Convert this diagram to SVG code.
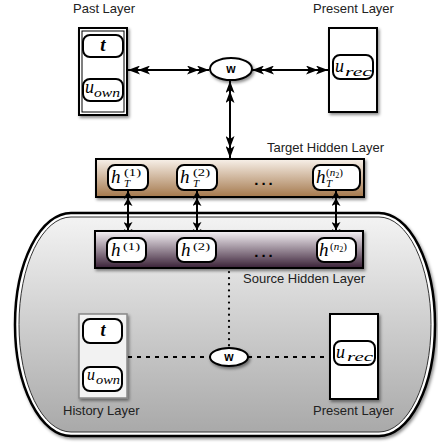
<svg xmlns="http://www.w3.org/2000/svg" width="438" height="443" viewBox="0 0 438 443">
<defs>
<style>
.lbl{font-family:"Liberation Sans",Arial,sans-serif;font-size:13px;fill:#222}
.m{font-family:"Liberation Serif","Times New Roman",serif;font-style:italic;fill:#000}
.up{font-family:"Liberation Serif","Times New Roman",serif;fill:#000}
.w{font-family:"Liberation Sans",Arial,sans-serif;font-weight:bold;font-size:12px;text-anchor:middle;fill:#000}
.n{fill:#fff;stroke:#000;stroke-width:2}
.ell{fill:#fff;stroke:#000;stroke-width:2}
.ar{fill:none;stroke:#000;stroke-width:2}
.dash{fill:none;stroke:#000;stroke-width:2;stroke-dasharray:4 5}
.dot{fill:none;stroke:#000;stroke-width:2.2;stroke-dasharray:0.1 6;stroke-linecap:round}
.dots{font-family:"Liberation Sans",Arial,sans-serif;font-weight:bold;font-size:15px;letter-spacing:3px;fill:#000;text-anchor:middle}
</style>
<linearGradient id="gc" x1="0" y1="0" x2="0" y2="1">
<stop offset="0" stop-color="#f3f3f3"/><stop offset="1" stop-color="#a9a9a9"/>
</linearGradient>
<linearGradient id="gt" x1="0" y1="0" x2="0" y2="1">
<stop offset="0" stop-color="#f8f1ea"/><stop offset="1" stop-color="#a4784c"/>
</linearGradient>
<linearGradient id="gs" x1="0" y1="0" x2="0" y2="1">
<stop offset="0" stop-color="#f7f3f7"/><stop offset="1" stop-color="#3a2137"/>
</linearGradient>
<filter id="sh" x="-20%" y="-20%" width="140%" height="150%">
<feDropShadow dx="1.5" dy="2" stdDeviation="1.6" flood-color="#000" flood-opacity="0.45"/>
</filter>
<marker id="a1" markerUnits="userSpaceOnUse" viewBox="0 0 22 9" markerWidth="22" markerHeight="9" refX="22" refY="4.5" orient="auto-start-reverse">
<path d="M0,0 L12,4.5 L0,9 L3,4.5 Z M10,0 L22,4.5 L10,9 L13,4.5 Z" fill="#000"/>
</marker>
<marker id="a2" markerUnits="userSpaceOnUse" viewBox="0 0 15 9" markerWidth="15" markerHeight="9" refX="15" refY="4.5" orient="auto-start-reverse">
<path d="M0,0 L8,4.5 L0,9 L2,4.5 Z M7,0 L15,4.5 L7,9 L9,4.5 Z" fill="#000"/>
</marker>
</defs>

<!-- container -->
<g id="container">
<rect x="15" y="213" width="420" height="223" rx="56" ry="111.5" fill="#fff" stroke="#000" stroke-width="2.5" filter="url(#sh)"/>
<rect x="19" y="217" width="412" height="215" rx="52" ry="107.5" fill="url(#gc)" stroke="#333" stroke-width="1"/>
</g>

<!-- connectors -->
<g id="connectors">
<line class="ar" x1="128" y1="70" x2="209" y2="70" marker-start="url(#a1)" marker-end="url(#a1)"/>
<line class="ar" x1="252" y1="70" x2="328" y2="70" marker-start="url(#a1)" marker-end="url(#a1)"/>
<line class="ar" x1="230" y1="81" x2="230" y2="158" marker-start="url(#a1)" marker-end="url(#a1)"/>
<line class="dot" x1="229" y1="272" x2="229" y2="346"/>
<line class="dash" x1="128" y1="357" x2="210" y2="357"/>
<line class="dash" x1="248" y1="357" x2="330" y2="357"/>
</g>

<!-- past layer -->
<g id="past-layer">
<text class="lbl" x="73" y="13">Past Layer</text>
<rect x="79" y="28" width="48" height="87" fill="#fff" stroke="#000" stroke-width="2" filter="url(#sh)"/>
<rect x="82" y="31" width="42" height="81" fill="none" stroke="#000" stroke-width="1"/>
<rect class="n" x="83" y="35" width="40" height="22" rx="7"/>
<text class="m" x="103" y="51" font-size="19" font-weight="bold" text-anchor="middle">t</text>
<rect class="n" x="83" y="79" width="40" height="22" rx="7"/>
<text class="m" x="85" y="93" font-size="18">u</text>
<text class="m" x="94" y="97" font-size="13" textLength="26" lengthAdjust="spacingAndGlyphs">own</text>
</g>

<!-- W top -->
<g id="w-top">
<ellipse class="ell" cx="231" cy="69" rx="21" ry="11" filter="url(#sh)"/>
<text class="w" x="231" y="73">w</text>
</g>

<!-- present layer top -->
<g id="present-layer-top">
<text class="lbl" x="313" y="13">Present Layer</text>
<rect x="329" y="28" width="48" height="84" fill="#fff" stroke="#000" stroke-width="2" filter="url(#sh)"/>
<rect class="n" x="333" y="55" width="40" height="24" rx="7"/>
<text class="m" x="335" y="72" font-size="18">u</text>
<text class="m" x="345" y="76" font-size="13" textLength="27" lengthAdjust="spacingAndGlyphs">rec</text>
</g>

<!-- target hidden layer -->
<g id="target-hidden-layer">
<text class="lbl" x="267" y="152">Target Hidden Layer</text>
<rect x="96" y="159" width="268" height="38" fill="url(#gt)" stroke="#000" stroke-width="2" filter="url(#sh)"/>
<rect class="n" x="108" y="165" width="40" height="25" rx="7"/>
<text class="m" x="111" y="183" font-size="19">h</text>
<text class="up" x="124" y="176" font-size="11" textLength="17" lengthAdjust="spacingAndGlyphs">(1)</text>
<text class="m" x="124" y="187" font-size="11">T</text>
<rect class="n" x="177" y="165" width="40" height="25" rx="7"/>
<text class="m" x="180" y="183" font-size="19">h</text>
<text class="up" x="193" y="176" font-size="11" textLength="17" lengthAdjust="spacingAndGlyphs">(2)</text>
<text class="m" x="193" y="187" font-size="11">T</text>
<text class="dots" x="265" y="185">...</text>
<rect class="n" x="313" y="165" width="47" height="25" rx="7"/>
<text class="m" x="316" y="183" font-size="19">h</text>
<text class="up" x="326" y="176" font-size="11">(<tspan class="m">n</tspan><tspan font-size="8" dy="1.5">2</tspan><tspan dy="-1.5">)</tspan></text>
<text class="m" x="326" y="187" font-size="11">T</text>
</g>

<!-- vertical arrows between layers -->
<g id="connectors-hidden">
<line class="ar" x1="128" y1="191" x2="128" y2="237" marker-start="url(#a2)" marker-end="url(#a2)"/>
<line class="ar" x1="197" y1="191" x2="197" y2="237" marker-start="url(#a2)" marker-end="url(#a2)"/>
<line class="ar" x1="336" y1="191" x2="336" y2="237" marker-start="url(#a2)" marker-end="url(#a2)"/>
</g>

<!-- source hidden layer -->
<g id="source-hidden-layer">
<rect x="95" y="231" width="268" height="37" fill="url(#gs)" stroke="#000" stroke-width="2" filter="url(#sh)"/>
<rect class="n" x="107" y="238" width="39" height="24" rx="7"/>
<text class="m" x="111" y="256" font-size="19">h</text>
<text class="up" x="123" y="250" font-size="11" textLength="17" lengthAdjust="spacingAndGlyphs">(1)</text>
<rect class="n" x="177" y="238" width="39" height="24" rx="7"/>
<text class="m" x="181" y="256" font-size="19">h</text>
<text class="up" x="193" y="250" font-size="11" textLength="17" lengthAdjust="spacingAndGlyphs">(2)</text>
<text class="dots" x="265" y="257">...</text>
<rect class="n" x="317" y="238" width="39" height="24" rx="7"/>
<text class="m" x="319" y="256" font-size="19">h</text>
<text class="up" x="330" y="250" font-size="11">(<tspan class="m">n</tspan><tspan font-size="8" dy="1.5">2</tspan><tspan dy="-1.5">)</tspan></text>
<text class="lbl" x="243" y="283">Source Hidden Layer</text>
</g>

<!-- history layer -->
<g id="history-layer">
<rect x="79" y="314" width="48" height="84" fill="#f2f2f2" stroke="#888" stroke-width="1.5" filter="url(#sh)"/>
<rect class="n" x="83" y="319" width="39" height="24" rx="7"/>
<text class="m" x="103" y="336" font-size="18" font-weight="bold" text-anchor="middle">t</text>
<rect class="n" x="83" y="367" width="39" height="24" rx="7"/>
<text class="m" x="87" y="380" font-size="16">u</text>
<text class="m" x="96" y="384" font-size="12" textLength="24" lengthAdjust="spacingAndGlyphs">own</text>
<text class="lbl" x="63" y="415">History Layer</text>
</g>

<!-- W bottom -->
<g id="w-bottom">
<ellipse class="ell" cx="229" cy="357" rx="19" ry="9" filter="url(#sh)"/>
<text class="w" x="229" y="361">w</text>
</g>

<!-- present layer bottom -->
<g id="present-layer-bottom">
<rect x="330" y="314" width="48" height="85" fill="#fff" stroke="#000" stroke-width="2" filter="url(#sh)"/>
<rect class="n" x="334" y="341" width="41" height="24" rx="7"/>
<text class="m" x="336" y="358" font-size="18">u</text>
<text class="m" x="347" y="361" font-size="13" textLength="26" lengthAdjust="spacingAndGlyphs">rec</text>
<text class="lbl" x="313" y="415">Present Layer</text>
</g>
</svg>
